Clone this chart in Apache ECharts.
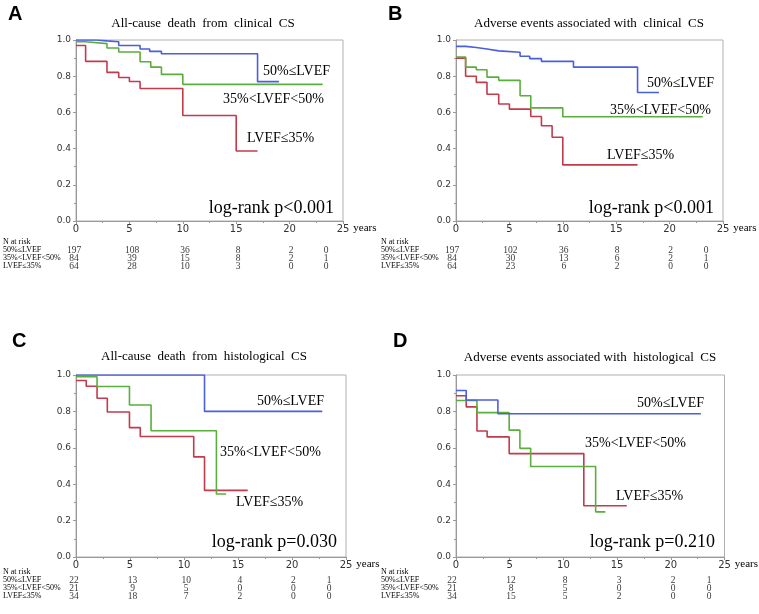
<!DOCTYPE html>
<html><head><meta charset="utf-8">
<script src="https://cdn.jsdelivr.net/npm/echarts@6/dist/echarts.min.js"></script>
<style>html,body{margin:0;padding:0;background:#fff}#c{width:759px;height:614px}</style>
</head><body><div id="c"></div>
<script>
// ---------- data ----------
const groups = ['50%≤LVEF', '35%<LVEF<50%', 'LVEF≤35%'];
const riskTimes = [0, 5, 10, 15, 20, 25];
const yTicks = [0, 0.2, 0.4, 0.6, 0.8, 1.0];

// Panel A: all-cause death, clinical CS
const aBlueT = [0, 1.9, 2.9, 4, 6, 6.9, 8, 17, 19];
const aBlueS = [1.0, 0.995, 0.99, 0.97, 0.95, 0.937, 0.924, 0.77, 0.77];
const aGreenT = [0, 0.9, 2.9, 4, 6, 7, 8, 10, 23.1];
const aGreenS = [0.99, 0.98, 0.956, 0.934, 0.88, 0.85, 0.81, 0.755, 0.755];
const aRedT = [0, 0.9, 2.9, 4, 5, 6, 10, 15, 17];
const aRedS = [0.97, 0.882, 0.821, 0.793, 0.771, 0.732, 0.583, 0.387, 0.387];
const aRisk1 = [197, 108, 36, 8, 2, 0];
const aRisk2 = [84, 39, 15, 8, 2, 1];
const aRisk3 = [64, 28, 10, 3, 0, 0];

// Panel B: adverse events, clinical CS
const bBlueT = [0, 0.9, 1.9, 2.9, 4, 6, 6.9, 8, 11, 17, 19];
const bBlueS = [0.965, 0.959, 0.95, 0.94, 0.932, 0.91, 0.897, 0.882, 0.85, 0.71, 0.71];
const bGreenT = [0, 0.9, 1.9, 2.9, 4, 6, 7, 10, 23.1];
const bGreenS = [0.906, 0.85, 0.836, 0.795, 0.777, 0.692, 0.625, 0.576, 0.576];
const bRedT = [0, 0.9, 1.9, 2.9, 4, 5, 7, 8, 9, 10, 17];
const bRedS = [0.9, 0.80, 0.766, 0.70, 0.646, 0.618, 0.577, 0.526, 0.463, 0.31, 0.31];
const bRisk1 = [197, 102, 36, 8, 2, 0];
const bRisk2 = [84, 30, 13, 6, 2, 1];
const bRisk3 = [64, 23, 6, 2, 0, 0];

// Panel C: all-cause death, histological CS
const cBlueT = [0, 11.9, 22.8];
const cBlueS = [1.0, 0.80, 0.80];
const cGreenT = [0, 1.95, 4.95, 6.95, 13, 13.9];
const cGreenS = [0.99, 0.937, 0.835, 0.694, 0.346, 0.346];
const cRedT = [0, 0.95, 1.95, 2.9, 4.95, 5.95, 10.9, 11.9, 15.9];
const cRedS = [0.97, 0.938, 0.872, 0.797, 0.711, 0.662, 0.55, 0.366, 0.366];
const cRisk1 = [22, 13, 10, 4, 2, 1];
const cRisk2 = [21, 9, 5, 0, 0, 0];
const cRisk3 = [34, 18, 7, 2, 0, 0];

// Panel D: adverse events, histological CS
const dBlueT = [0, 0.95, 3.9, 22.8];
const dBlueS = [0.915, 0.863, 0.787, 0.787];
const dGreenT = [0, 1.95, 4.95, 5.95, 6.95, 13, 13.9];
const dGreenS = [0.86, 0.793, 0.697, 0.597, 0.497, 0.248, 0.248];
const dRedT = [0, 0.95, 1.95, 2.9, 4.95, 11.9, 15.9];
const dRedS = [0.886, 0.825, 0.692, 0.66, 0.568, 0.282, 0.282];
const dRisk1 = [22, 12, 8, 3, 2, 1];
const dRisk2 = [21, 8, 5, 0, 0, 0];
const dRisk3 = [34, 15, 5, 2, 0, 0];

// ---------- layout / style ----------
const colors = ['#4a5ee0', '#5aae3c', '#c23b4b'];
const SERIF = '"Liberation Serif","Times New Roman",serif';
const SANS = '"DejaVu Sans",Verdana,sans-serif';

const panels = [
  {letter:'A', lx:8, ly:4, title:'All-cause  death  from  clinical  CS', tx:203, ty:24,
   grid:{left:76, top:40, width:267, height:181}, table:{top:238},
   curves:[[aBlueT,aBlueS],[aGreenT,aGreenS],[aRedT,aRedS]], risk:[aRisk1,aRisk2,aRisk3],
   notes:[[263,71],[223,99],[247,138]], p:'log-rank p<0.001', px:334, py:208},
  {letter:'B', lx:388, ly:4, title:'Adverse events associated with  clinical  CS', tx:589, ty:24,
   grid:{left:456, top:40, width:267, height:181}, table:{top:238},
   curves:[[bBlueT,bBlueS],[bGreenT,bGreenS],[bRedT,bRedS]], risk:[bRisk1,bRisk2,bRisk3],
   notes:[[647,83],[610,110],[607,155]], p:'log-rank p<0.001', px:714, py:208},
  {letter:'C', lx:12, ly:331, title:'All-cause  death  from  histological  CS', tx:204, ty:357,
   grid:{left:76, top:375, width:270, height:182}, table:{top:568},
   curves:[[cBlueT,cBlueS],[cGreenT,cGreenS],[cRedT,cRedS]], risk:[cRisk1,cRisk2,cRisk3],
   notes:[[257,401],[220,452],[236,502]], p:'log-rank p=0.030', px:337, py:542},
  {letter:'D', lx:393, ly:331, title:'Adverse events associated with  histological  CS', tx:590, ty:358,
   grid:{left:456, top:375, width:270, height:182}, table:{top:568},
   curves:[[dBlueT,dBlueS],[dGreenT,dGreenS],[dRedT,dRedS]], risk:[dRisk1,dRisk2,dRisk3],
   notes:[[637,403],[585,443],[616,496]], p:'log-rank p=0.210', px:715, py:542}
];

const grid = [], xAxis = [], yAxis = [], series = [], graphic = [];
panels.forEach((p, i) => {
  const gi = i * 2, ti = i * 2 + 1;
  grid.push({left:p.grid.left, top:p.grid.top, width:p.grid.width, height:p.grid.height,
    show:true, borderColor:'#b0b0b0', borderWidth:1, backgroundColor:'transparent'});
  grid.push({left:p.grid.left, top:p.table.top, width:p.grid.width, height:32});
  xAxis.push({gridIndex:gi, type:'value', min:0, max:25, interval:5,
    axisLine:{show:true, lineStyle:{color:'#999', width:1}},
    axisTick:{show:true, length:3, lineStyle:{color:'#999'}},
    minorTick:{show:true, splitNumber:2, length:2, lineStyle:{color:'#999'}},
    splitLine:{show:false},
    axisLabel:{color:'#333', fontFamily:SANS, fontSize:10, margin:3, showMaxLabel:true},
    name:'years', nameLocation:'end', nameGap:4,
    nameTextStyle:{fontFamily:SERIF, fontSize:11, color:'#000', verticalAlign:'top', padding:[2,0,0,0]}});
  xAxis.push({gridIndex:ti, type:'value', min:0, max:25, show:false});
  yAxis.push({gridIndex:gi, type:'value', min:0, max:1, interval:0.2,
    axisLine:{show:true, lineStyle:{color:'#999', width:1}},
    axisTick:{show:true, length:3, lineStyle:{color:'#999'}},
    minorTick:{show:true, splitNumber:2, length:2, lineStyle:{color:'#999'}},
    splitLine:{show:false},
    axisLabel:{color:'#333', fontFamily:SANS, fontSize:9, margin:5, formatter:v => v.toFixed(1)}});
  yAxis.push({gridIndex:ti, type:'category', inverse:true,
    data:['N at risk'].concat(groups),
    axisLine:{show:false}, axisTick:{show:false},
    axisLabel:{interval:0, align:'left', margin:75, fontFamily:SERIF, fontSize:8, color:'#000'}});
  p.curves.forEach((c, k) => {
    series.push({type:'line', xAxisIndex:gi, yAxisIndex:gi, step:'end', symbol:'none',
      lineStyle:{color:colors[k], width:1.6}, z:3 - k + 2,
      data:c[0].map((t, j) => [t, c[1][j]]), animation:false});
  });
  p.risk.forEach((r, k) => {
    series.push({type:'scatter', xAxisIndex:ti, yAxisIndex:ti, symbolSize:0,
      data:r.map((n, j) => ({value:[riskTimes[j], k + 1, n],
        label:{offset:[j === riskTimes.length - 1 ? -17 : (j === 0 ? -4 : 1), 0]}})),
      label:{show:true, position:'inside', formatter:d => String(d.value[2]),
        fontFamily:SERIF, fontSize:9.5, color:'#000'}, animation:false, silent:true});
  });
  graphic.push({type:'text', left:p.lx, top:p.ly,
    style:{text:p.letter, font:'bold 20px "Liberation Sans",Arial,sans-serif', fill:'#000'}});
  graphic.push({type:'text', x:p.tx, y:p.ty,
    style:{text:p.title, font:'13px ' + SERIF, fill:'#000', textAlign:'center', textVerticalAlign:'middle'}});
  groups.forEach((g, k) => {
    graphic.push({type:'text', x:p.notes[k][0], y:p.notes[k][1],
      style:{text:g, font:'14px ' + SERIF, fill:'#000', textAlign:'left', textVerticalAlign:'middle'}});
  });
  graphic.push({type:'text', x:p.px, y:p.py,
    style:{text:p.p, font:'18px ' + SERIF, fill:'#000', textAlign:'right', textVerticalAlign:'middle'}});
});

const chart = echarts.init(document.getElementById('c'), null, {renderer:'canvas'});
chart.setOption({animation:false, backgroundColor:'#fff', grid, xAxis, yAxis, series, graphic});
</script></body></html>
